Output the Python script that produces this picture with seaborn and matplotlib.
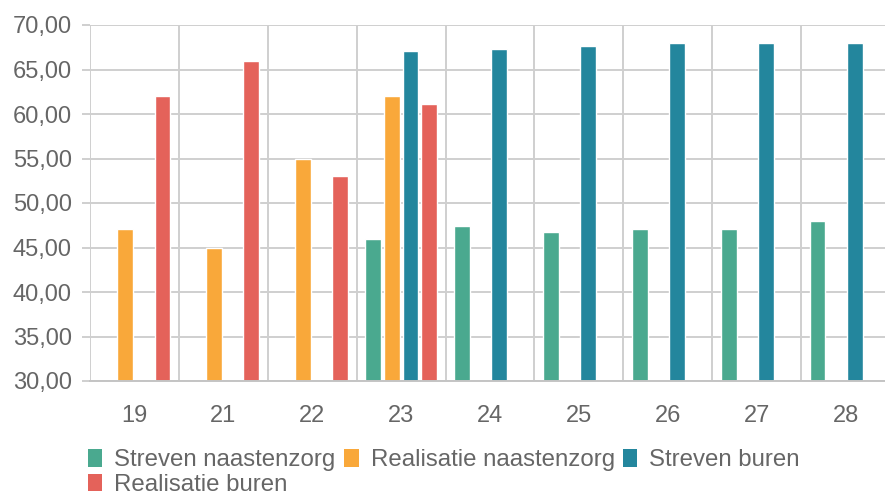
import numpy as np
import pandas as pd
import matplotlib
matplotlib.use("Agg")
import matplotlib.pyplot as plt
from matplotlib.patches import Patch
from matplotlib.ticker import FuncFormatter, FixedLocator
import seaborn as sns

weeks = ["19", "21", "22", "23", "24", "25", "26", "27", "28"]
series = ["Streven naastenzorg", "Realisatie naastenzorg", "Streven buren", "Realisatie buren"]
streven_naastenzorg = [np.nan, np.nan, np.nan, 46.0, 47.4, 46.7, 47.1, 47.1, 48.0]
realisatie_naastenzorg = [47.1, 45.0, 55.0, 62.0, np.nan, np.nan, np.nan, np.nan, np.nan]
streven_buren = [np.nan, np.nan, np.nan, 67.1, 67.3, 67.6, 68.0, 68.0, 68.0]
realisatie_buren = [62.0, 66.0, 53.0, 61.1, np.nan, np.nan, np.nan, np.nan, np.nan]
colors = ["#4aa98f", "#f9a83a", "#23869d", "#e4625a"]

rows = []
for name, vals in zip(series, [streven_naastenzorg, realisatie_naastenzorg,
                               streven_buren, realisatie_buren]):
    for w, v in zip(weeks, vals):
        rows.append({"week": w, "serie": name, "value": v})
df = pd.DataFrame(rows).dropna()

sns.set_style("white")
plt.rcParams["font.family"] = ["Liberation Sans", "DejaVu Sans"]
text_col = "#666666"
grid_col = "#cfcfcf"

fig = plt.figure(figsize=(8.85, 4.97), dpi=100)
ax = fig.add_axes([90 / 885, 1 - 381 / 497, 800 / 885, 356 / 497])

sns.barplot(data=df, x="week", y="value", hue="serie", order=weeks,
            hue_order=series, palette=colors, width=0.84, gap=0.16,
            saturation=1, legend=False, ax=ax)

ax.set_ylim(30, 70)
ax.set_xlim(-0.5, len(weeks) - 0.5)
ax.set_yticks(np.arange(30, 71, 5))
ax.yaxis.set_major_formatter(FuncFormatter(lambda v, p: f"{v:.2f}".replace(".", ",")))
ax.xaxis.set_minor_locator(FixedLocator(np.arange(-0.5, len(weeks), 1.0)))
ax.set_xlabel("")
ax.set_ylabel("")

ax.grid(axis="y", which="major", color=grid_col, lw=1.4)
ax.grid(axis="x", which="minor", color=grid_col, lw=1.4)
ax.set_axisbelow(True)
for s in ["top", "right", "left"]:
    ax.spines[s].set_visible(False)
ax.spines["bottom"].set_color("#c4c4c4")
ax.spines["bottom"].set_linewidth(1.4)

ax.tick_params(axis="x", which="major", length=0, pad=17, labelsize=17, labelcolor=text_col)
ax.tick_params(axis="x", which="minor", length=7, width=1.4, color=grid_col)
ax.tick_params(axis="y", length=6, width=1.4, color=grid_col, pad=7,
               labelsize=17, labelcolor=text_col, left=True)

# legend: reorder so matplotlib's column-major filling gives rows like the original
handles = [Patch(facecolor=c, edgecolor="none") for c in colors]
order = [0, 3, 1, 2]
fig.legend([handles[i] for i in order], [series[i] for i in order],
           loc="upper left", bbox_to_anchor=(88 / 885, 1 - 449 / 497),
           ncol=3, frameon=False, fontsize=17.3, labelcolor=text_col,
           handlelength=0.6, handleheight=0.75, handletextpad=0.5,
           columnspacing=0.35, labelspacing=0.1, borderpad=0, borderaxespad=0)

fig.savefig("out.png", dpi=100, facecolor="white")
